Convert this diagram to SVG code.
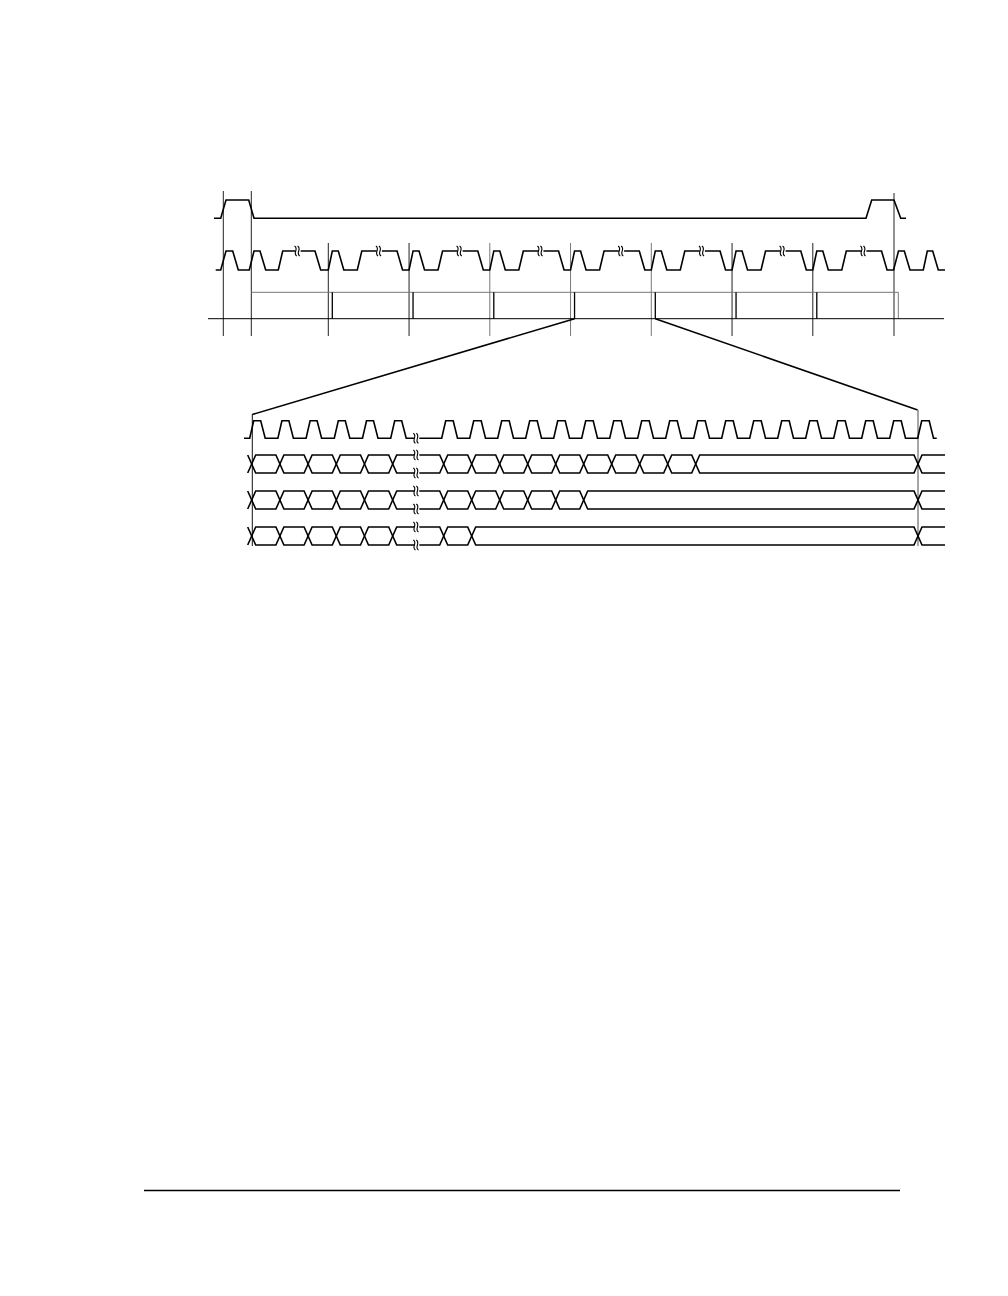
<svg xmlns="http://www.w3.org/2000/svg" xmlns:xlink="http://www.w3.org/1999/xlink" width="1008" height="1296" viewBox="0 0 1008 1296">
<style>
.sig{fill:none;stroke:#000;stroke-width:1.6;stroke-linejoin:miter}
.grid{fill:none;stroke:#222;stroke-width:1}
.gridg{fill:none;stroke:#777;stroke-width:1}
.div{fill:none;stroke:#000;stroke-width:1.3}
.zl{fill:none;stroke:#000;stroke-width:1.6}
</style>
<defs>
<g id="brk">
<rect x="-2.6" y="-1.3" width="5.2" height="2.6" fill="#fff"/>
<path d="M-3.4,-5 q2.3,1.3 1.1,5 t1.1,5 M-0.4,-5 q2.3,1.3 1.1,5 t1.1,5" fill="none" stroke="#000" stroke-width="1.1"/>
</g>
</defs>
<rect width="1008" height="1296" fill="#fff"/>

<g id="grid-lines">
<path class="grid" d="M223.3,191 V336 M251.3,191 V336 M894,193 V336"/>
<path class="grid" d="M328.3,243 V336 M409.05,243 V336 M732.05,243 V336 M812.8,243 V336"/>
<path class="gridg" d="M489.8,243 V336 M570.55,243 V336 M651.3,243 V336"/>
</g>

<g id="frame-signal">
<path class="sig" d="M214,218.3 L220.7,218.3 L226,200 L248.7,200 L254,218.3 L866,218.3 L871.7,200 L894,200 L900.7,218.3 L906,218.3"/>
</g>

<g id="clock-signal">
<path class="sig" d="M215.7,270 L220.7,270 L226,251 L232.7,251 L238.3,270 L249.3,270
L254,251 L260,251 L265.7,270 L278.3,270 L282.7,251 L315,251 L320.7,270 L328.3,270
L332.3,251 L338.3,251 L343.8,270 L357.3,270 L361.8,251 L397.05,251 L402.55,270 L409.05,270
L413.05,251 L419.05,251 L424.55,270 L438.05,270 L442.55,251 L477.8,251 L483.3,270 L489.8,270
L493.8,251 L499.8,251 L505.3,270 L518.8,270 L523.3,251 L558.55,251 L564.05,270 L570.55,270
L574.55,251 L580.55,251 L586.05,270 L599.55,270 L604.05,251 L639.3,251 L644.8,270 L651.3,270
L655.3,251 L661.3,251 L666.8,270 L680.3,270 L684.8,251 L720.05,251 L725.55,270 L732.05,270
L736.05,251 L742.05,251 L747.55,270 L761.05,270 L765.55,251 L800.8,251 L806.3,270 L812.8,270
L816.8,251 L822.8,251 L828.3,270 L841.8,270 L846.3,251 L881.55,251 L887.05,270 L893.55,270
L898.5,251 L904.3,251 L910,270 L923.3,270 L927.3,251 L932.7,251 L938.3,270 L945,270"/>
<use xlink:href="#brk" href="#brk" x="298" y="251"/>
<use xlink:href="#brk" href="#brk" x="379.3" y="251"/>
<use xlink:href="#brk" href="#brk" x="460" y="251"/>
<use xlink:href="#brk" href="#brk" x="540.8" y="251"/>
<use xlink:href="#brk" href="#brk" x="621.5" y="251"/>
<use xlink:href="#brk" href="#brk" x="702.3" y="251"/>
<use xlink:href="#brk" href="#brk" x="783" y="251"/>
<use xlink:href="#brk" href="#brk" x="863.8" y="251"/>
</g>

<g id="bus-row">
<path fill="none" stroke="#777" stroke-width="1" d="M251.3,292.3 H898.3 V318.7"/>
<path fill="none" stroke="#000" stroke-width="1" d="M208,318.7 H944"/>
<path class="div" d="M332.3,292.3 V318.7 M413.05,292.3 V318.7 M493.8,292.3 V318.7 M574.55,292.3 V318.7 M655.3,292.3 V318.7 M736.05,292.3 V318.7 M816.8,292.3 V318.7"/>
</g>

<g id="connectors">
<path class="zl" d="M574.55,318.7 L252.3,414.5"/>
<path class="zl" d="M655.3,318.7 L917.7,410"/>
<path fill="none" stroke="#111" stroke-width="1" d="M252.3,414 V546"/>
<path fill="none" stroke="#888" stroke-width="1.5" d="M918,410 V546"/>
</g>

<g id="detail-clock">
<path class="sig" d="M244,438.3 H249.7
l4,-17.6 h7 l4.5,17.6 h12.7
l4,-17.6 h7 l4.5,17.6 h12.7
l4,-17.6 h7 l4.5,17.6 h12.7
l4,-17.6 h7 l4.5,17.6 h12.7
l4,-17.6 h7 l4.5,17.6 h12.7
l4,-17.6 h7 l4.5,17.6 H441.7
l4,-17.6 h7.5 l4.3,17.6 h12.2
l4,-17.6 h7.5 l4.3,17.6 h12.2
l4,-17.6 h7.5 l4.3,17.6 h12.2
l4,-17.6 h7.5 l4.3,17.6 h12.2
l4,-17.6 h7.5 l4.3,17.6 h12.2
l4,-17.6 h7.5 l4.3,17.6 h12.2
l4,-17.6 h7.5 l4.3,17.6 h12.2
l4,-17.6 h7.5 l4.3,17.6 h12.2
l4,-17.6 h7.5 l4.3,17.6 h12.2
l4,-17.6 h7.5 l4.3,17.6 h12.2
l4,-17.6 h7.5 l4.3,17.6 h12.2
l4,-17.6 h7.5 l4.3,17.6 h12.2
l4,-17.6 h7.5 l4.3,17.6 h12.2
l4,-17.6 h7.5 l4.3,17.6 h12.2
l4,-17.6 h7.5 l4.3,17.6 h12.2
l4,-17.6 h7.5 l4.3,17.6 h12.2
l4,-17.6 h7.5 l4.3,17.6 h12.2
l4,-17.6 h7.5 l4.3,17.6 H936.7"/>
<use xlink:href="#brk" href="#brk" x="416.7" y="438.3"/>
</g>

<g id="data-row-a">
<path class="sig" d="M247.7,455 l8,18 h20.2 l8,-18 h20.2 l8,18 h20.2 l8,-18 h20.2 l8,18 h20.2 l8,-18 H439.7 l8,18 h20 l8,-18 h20 l8,18 h20 l8,-18 h20 l8,18 h20 l8,-18 h20 l8,18 h20 l8,-18 h20 l8,18 h20 l8,-18 H914 l8,18 H945"/>
<path class="sig" d="M247.7,473 l8,-18 h20.2 l8,18 h20.2 l8,-18 h20.2 l8,18 h20.2 l8,-18 h20.2 l8,18 H439.7 l8,-18 h20 l8,18 h20 l8,-18 h20 l8,18 h20 l8,-18 h20 l8,18 h20 l8,-18 h20 l8,18 h20 l8,-18 h20 l8,18 H914 l8,-18 H945"/>
<use xlink:href="#brk" href="#brk" x="416.7" y="455"/>
<use xlink:href="#brk" href="#brk" x="416.7" y="473"/>
</g>

<g id="data-row-b">
<path class="sig" d="M247.7,491 l8,18 h20.2 l8,-18 h20.2 l8,18 h20.2 l8,-18 h20.2 l8,18 h20.2 l8,-18 H439.7 l8,18 h20 l8,-18 h20 l8,18 h20 l8,-18 h20 l8,18 h20 l8,-18 H914 l8,18 H945"/>
<path class="sig" d="M247.7,509 l8,-18 h20.2 l8,18 h20.2 l8,-18 h20.2 l8,18 h20.2 l8,-18 h20.2 l8,18 H439.7 l8,-18 h20 l8,18 h20 l8,-18 h20 l8,18 h20 l8,-18 h20 l8,18 H914 l8,-18 H945"/>
<use xlink:href="#brk" href="#brk" x="416.7" y="491"/>
<use xlink:href="#brk" href="#brk" x="416.7" y="509"/>
</g>

<g id="data-row-c">
<path class="sig" d="M247.7,527 l8,18 h20.2 l8,-18 h20.2 l8,18 h20.2 l8,-18 h20.2 l8,18 h20.2 l8,-18 H439.7 l8,18 h20 l8,-18 H914 l8,18 H945"/>
<path class="sig" d="M247.7,545 l8,-18 h20.2 l8,18 h20.2 l8,-18 h20.2 l8,18 h20.2 l8,-18 h20.2 l8,18 H439.7 l8,-18 h20 l8,18 H914 l8,-18 H945"/>
<use xlink:href="#brk" href="#brk" x="416.7" y="527"/>
<use xlink:href="#brk" href="#brk" x="416.7" y="545"/>
</g>

<g id="footer-rule">
<path fill="none" stroke="#000" stroke-width="1.5" d="M144,1190.5 H900"/>
</g>
</svg>
